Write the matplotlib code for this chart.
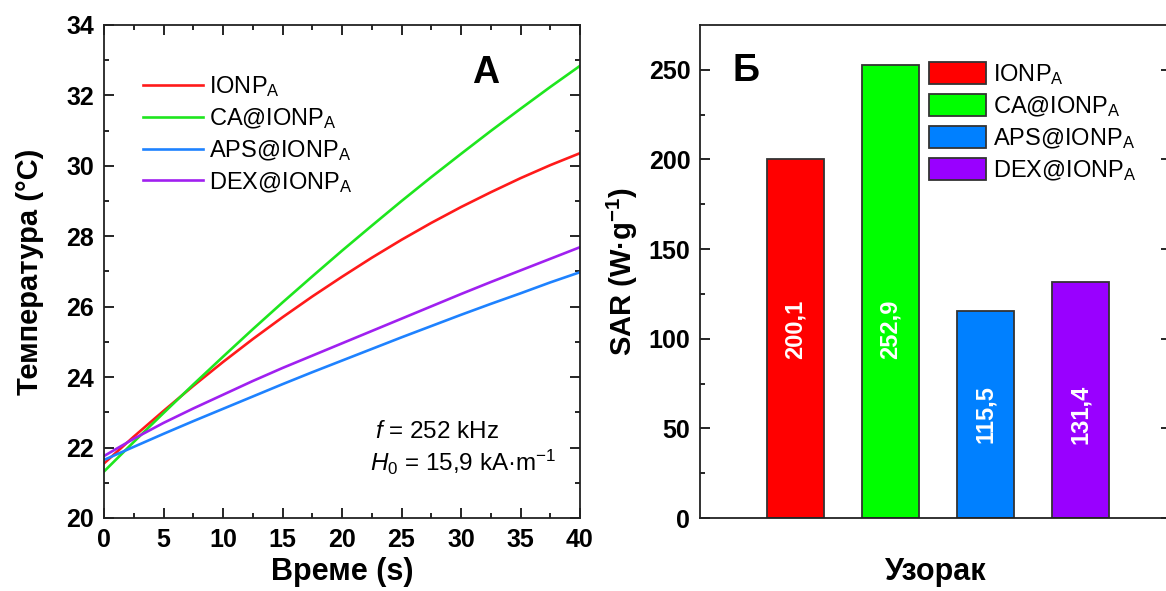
import matplotlib
matplotlib.use("Agg")
from matplotlib import rc
import numpy as np
import matplotlib.pyplot as plt

rc('font', **{'family': 'sans-serif', 'sans-serif': ['Liberation Sans', 'DejaVu Sans']})
rc('mathtext', fontset='custom', rm='Liberation Sans', it='Liberation Sans:italic',
   bf='Liberation Sans:bold')

# ---- panel A : heating curves ----
time_s = [0, 2.5, 5, 7.5, 10, 12.5, 15, 17.5, 20, 22.5, 25, 27.5, 30, 32.5, 35, 37.5, 40]
temp_ionp = [21.55, 22.31, 23.04, 23.75, 24.43, 25.08, 25.70, 26.29, 26.85, 27.39,
             27.90, 28.38, 28.83, 29.25, 29.65, 30.02, 30.36]
temp_ca = [21.32, 22.16, 22.98, 23.79, 24.58, 25.36, 26.12, 26.86, 27.59, 28.30,
           29.00, 29.68, 30.34, 30.99, 31.62, 32.24, 32.84]
temp_aps = [21.65, 22.02, 22.39, 22.75, 23.10, 23.45, 23.80, 24.14, 24.47, 24.80,
            25.13, 25.45, 25.77, 26.08, 26.38, 26.69, 26.98]
temp_dex = [21.76, 22.25, 22.70, 23.11, 23.50, 23.89, 24.26, 24.61, 24.96, 25.31,
            25.66, 26.01, 26.36, 26.70, 27.03, 27.36, 27.69]

# ---- panel B : SAR ----
samples = ["IONP$_\\mathregular{A}$", "CA@IONP$_\\mathregular{A}$",
           "APS@IONP$_\\mathregular{A}$", "DEX@IONP$_\\mathregular{A}$"]
sar_values = [200.1, 252.9, 115.5, 131.4]
sar_labels = ["200,1", "252,9", "115,5", "131,4"]

line_colors = ["#ff1a1a", "#1ee61e", "#1e82ff", "#a020f0"]
bar_colors = ["#ff0000", "#00ff00", "#0080ff", "#9900ff"]
label_y = [105, 105, 58, 58]

W, H = 1166, 591


def style_ticks(ax):
    ax.tick_params(axis='both', which='both', direction='in', width=1.2,
                   labelsize=18, colors='k')
    ax.tick_params(which='major', length=7)
    ax.tick_params(which='minor', length=3.6)
    for lab in ax.get_xticklabels() + ax.get_yticklabels():
        lab.set_fontweight('bold')
    for s in ax.spines.values():
        s.set_linewidth(1.3)
        s.set_color('#222222')


def make_plot():
    fig = plt.figure(figsize=(W / 100.0, H / 100.0), dpi=100)

    # ------------ A ------------
    ax = fig.add_axes([104 / W, 1 - 518 / H, 476 / W, 493 / H])
    series = [temp_ionp, temp_ca, temp_aps, temp_dex]
    for i, ys in enumerate(series):
        ax.plot(time_s, ys, color=line_colors[i], lw=1.9, label=samples[i])

    ax.set_xlim(0, 40)
    ax.set_ylim(20, 34)
    ax.set_xticks(np.arange(0, 41, 5))
    ax.set_xticks(np.arange(0, 41, 2.5), minor=True)
    ax.set_yticks(np.arange(20, 35, 2))
    ax.set_yticks(np.arange(20, 35, 1), minor=True)
    ax.tick_params(which='both', top=True, right=True)
    ax.tick_params(axis='x', pad=7)
    ax.tick_params(axis='y', pad=7)
    style_ticks(ax)

    ax.set_ylabel("Температура (°C)", fontsize=21, fontweight='bold')
    ax.yaxis.set_label_coords(-0.125, 0.5)
    ax.set_xlabel("Време (s)", fontsize=22, fontweight='bold')
    ax.xaxis.set_label_coords(0.5, -0.08)

    ax.legend(loc='upper left', bbox_to_anchor=(143 / W, 1 - 74 / H),
              bbox_transform=fig.transFigure, frameon=False, fontsize=17,
              handlelength=2.55, handletextpad=0.25, labelspacing=0.3,
              borderpad=0, borderaxespad=0)

    fig.text(485.5 / W, 1 - 73 / H, "A", fontsize=27, fontweight='bold',
             ha='center', va='center')
    fig.text(375 / W, 1 - 432 / H, "$f$ = 252 kHz", fontsize=17.5,
             ha='left', va='center')
    fig.text(370 / W, 1 - 462 / H, "$H_0$ = 15,9 kA·m$^{\\mathregular{-1}}$",
             fontsize=17.5, ha='left', va='center')

    # ------------ Б ------------
    bx = fig.add_axes([700 / W, 1 - 518 / H, 471 / W, 493 / H])
    xpos = np.arange(1, len(sar_values) + 1)
    bars = bx.bar(xpos, sar_values, width=0.6, color=bar_colors,
                  edgecolor='#333333', linewidth=1.3, label=samples)
    for i, b in enumerate(bars):
        bx.text(xpos[i], label_y[i], sar_labels[i], rotation=90, color='white',
                fontsize=17, fontweight='bold', ha='center', va='center')

    bx.set_xlim(0, 4.95)
    bx.set_ylim(0, 275)
    bx.set_xticks([])
    bx.set_yticks(np.arange(0, 251, 50))
    bx.set_yticks(np.arange(0, 251, 25), minor=True)
    bx.tick_params(which='both', left=True, right=True)
    bx.tick_params(axis='y', pad=7)
    style_ticks(bx)

    bx.set_ylabel("SAR (W·g$^{\\mathbf{-1}}$)", fontsize=21, fontweight='bold')
    bx.yaxis.set_label_coords(-0.128, 0.5)
    bx.set_xlabel("Узорак", fontsize=22, fontweight='bold')
    bx.xaxis.set_label_coords(0.5, -0.08)

    bx.legend(loc='upper left', bbox_to_anchor=(929 / W, 1 - 62 / H),
              bbox_transform=fig.transFigure, frameon=False, fontsize=17,
              handlelength=2.4, handleheight=1.05, handletextpad=0.3,
              labelspacing=0.3, borderpad=0, borderaxespad=0)

    fig.text(746 / W, 1 - 71 / H, "Б", fontsize=27, fontweight='bold',
             ha='center', va='center')

    fig.savefig("out.png", dpi=100)


def main():
    make_plot()


if __name__ == "__main__":
    main()
